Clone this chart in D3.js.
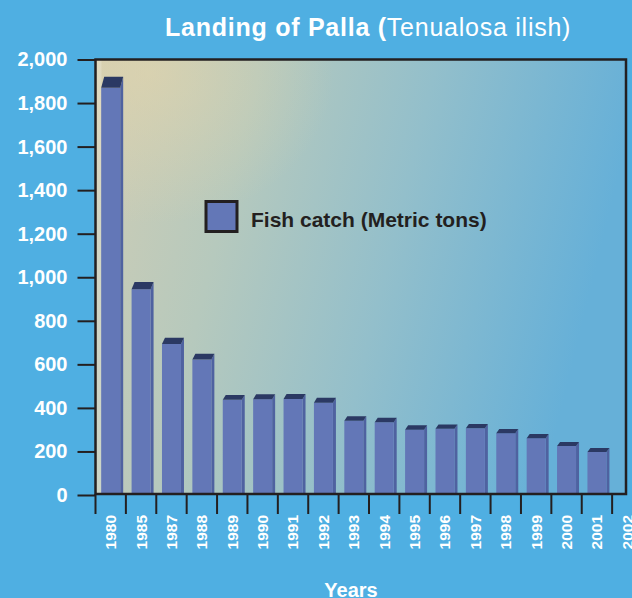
<!DOCTYPE html>
<meta charset="utf-8">
<style>
body {
  margin: 0;
  background: #4fafe2;
  font-family: "Liberation Sans", Arial, sans-serif;
}
.ylab text { fill: #fff; font-size: 20px; font-weight: bold; }
.xlab text { fill: #fff; font-size: 15.5px; font-weight: bold; }
.ylab line { stroke: #231f20; stroke-width: 2; }
</style>
<body></body>
<script src="https://cdnjs.cloudflare.com/ajax/libs/d3/7.8.5/d3.min.js"></script>
<script>
// years on the x axis (2002 has a label but no bar)
var years = ["1980","1985","1987","1988","1989","1990","1991","1992","1993",
             "1994","1995","1996","1997","1998","1999","2000","2001","2002"];
// fish catch, metric tons
var catchTons = [1870, 945, 694, 622, 437, 440, 441, 424, 341,
                 334, 300, 304, 306, 284, 261, 225, 198];
var yTicks = [0, 200, 400, 600, 800, 1000, 1200, 1400, 1600, 1800, 2000];

var width = 632, height = 598;
var plot = {left: 95.5, top: 59.5, right: 626, bottom: 494};

var svg = d3.select("body").append("svg")
    .attr("width", width)
    .attr("height", height);

var defs = svg.append("defs");
var grad = defs.append("linearGradient").attr("id", "bg")
    .attr("x1", "0").attr("y1", "0").attr("x2", "1").attr("y2", "0.2");
grad.append("stop").attr("offset", "0").attr("stop-color", "#d0cdb4");
grad.append("stop").attr("offset", "0.3").attr("stop-color", "#b6c9bd");
grad.append("stop").attr("offset", "0.62").attr("stop-color", "#93bfcb");
grad.append("stop").attr("offset", "1").attr("stop-color", "#66b0d8");
var glow = defs.append("radialGradient").attr("id", "glow")
    .attr("cx", "0.1").attr("cy", "0.03").attr("r", "0.35");
glow.append("stop").attr("offset", "0").attr("stop-color", "#e6d6aa").attr("stop-opacity", 0.55);
glow.append("stop").attr("offset", "1").attr("stop-color", "#e6d6aa").attr("stop-opacity", 0);

var x = d3.scaleBand()
    .domain(years)
    .range([plot.left, plot.left + 18 * 30.39])
    .paddingInner(0.375)
    .paddingOuter(0.1875);
var y = d3.scaleLinear().domain([0, 2000]).range([495, 59.5]);

// plot background
svg.append("rect")
    .attr("x", plot.left).attr("y", plot.top)
    .attr("width", plot.right - plot.left).attr("height", plot.bottom - plot.top)
    .attr("fill", "url(#bg)");
svg.append("rect")
    .attr("x", plot.left).attr("y", plot.top)
    .attr("width", plot.right - plot.left).attr("height", plot.bottom - plot.top)
    .attr("fill", "url(#glow)");
svg.append("rect")
    .attr("x", plot.left + 1).attr("y", plot.top)
    .attr("width", 5).attr("height", plot.bottom - plot.top)
    .attr("fill", "#fff").attr("opacity", 0.2);

// bars
var data = catchTons.map(function(v, i) { return {year: years[i], value: v}; });
var bars = svg.append("g").selectAll("g").data(data).enter().append("g");
var dx = 3;
function depth(d) { return 3 + (y(0) - y(d.value)) * 0.02; }

bars.append("path")
    .attr("fill", "#4f62a0")
    .attr("d", function(d) {
      var x1 = x(d.year) + x.bandwidth(), yt = y(d.value), dy = depth(d);
      return "M" + x1 + "," + yt + "L" + (x1 + dx) + "," + (yt - dy) +
             "L" + (x1 + dx) + "," + y(0) + "L" + x1 + "," + y(0) + "Z";
    });
bars.append("rect")
    .attr("fill", "#6377b7")
    .attr("x", function(d) { return x(d.year); })
    .attr("width", x.bandwidth())
    .attr("y", function(d) { return y(d.value); })
    .attr("height", function(d) { return y(0) - y(d.value); });
bars.append("path")
    .attr("fill", "#2b3963")
    .attr("d", function(d) {
      var x0 = x(d.year), x1 = x0 + x.bandwidth(), yt = y(d.value), dy = depth(d);
      return "M" + x0 + "," + yt + "L" + (x0 + dx) + "," + (yt - dy) +
             "L" + (x1 + dx) + "," + (yt - dy) + "L" + x1 + "," + yt + "Z";
    });

// frame
svg.append("rect")
    .attr("x", plot.left).attr("y", plot.top)
    .attr("width", plot.right - plot.left).attr("height", plot.bottom - plot.top)
    .attr("fill", "none").attr("stroke", "#231f20").attr("stroke-width", 2.5);

// y axis
svg.append("g")
    .attr("class", "ylab")
    .attr("transform", "translate(" + plot.left + ",0)")
    .call(d3.axisLeft(y).tickValues(yTicks).tickSize(18).tickPadding(10)
          .tickFormat(d3.format(",")))
    .call(function(g) { g.select(".domain").remove(); })
    .selectAll("text").style("font-family", "Liberation Sans, Arial, sans-serif");

// x ticks at band boundaries
var half = (x.step() - x.bandwidth()) / 2;
svg.append("g").selectAll("line").data(years).enter().append("line")
    .attr("x1", function(d) { return x(d) - half; })
    .attr("x2", function(d) { return x(d) - half; })
    .attr("y1", plot.bottom)
    .attr("y2", 514)
    .attr("stroke", "#231f20").attr("stroke-width", 2);

// x labels
svg.append("g")
    .attr("class", "xlab")
    .attr("transform", "translate(0,514)")
    .call(d3.axisBottom(x).tickSize(0).tickPadding(0))
    .call(function(g) { g.select(".domain").remove(); })
    .selectAll("text")
    .style("font-family", "Liberation Sans, Arial, sans-serif")
    .attr("text-anchor", "end")
    .attr("transform", "rotate(-90)")
    .attr("x", -1)
    .attr("y", 0)
    .attr("dy", "0.35em");

// title
var title = svg.append("text")
    .attr("x", 165).attr("y", 36)
    .attr("fill", "#fff")
    .style("font-size", "25px")
    .style("letter-spacing", "0.75px");
title.append("tspan").attr("font-weight", "bold").text("Landing of Palla (");
title.append("tspan").text("Tenualosa ilish)");

// legend
svg.append("rect")
    .attr("x", 206).attr("y", 201.5)
    .attr("width", 31).attr("height", 30)
    .attr("fill", "#6377b7").attr("stroke", "#231f20").attr("stroke-width", 3);
svg.append("text")
    .attr("x", 251).attr("y", 227)
    .attr("fill", "#231f20")
    .attr("font-weight", "bold")
    .style("font-size", "21px")
    .text("Fish catch (Metric tons)");

// x axis title
svg.append("text")
    .attr("x", 351).attr("y", 597)
    .attr("text-anchor", "middle")
    .attr("fill", "#fff")
    .attr("font-weight", "bold")
    .style("font-size", "20px")
    .text("Years");
</script>
